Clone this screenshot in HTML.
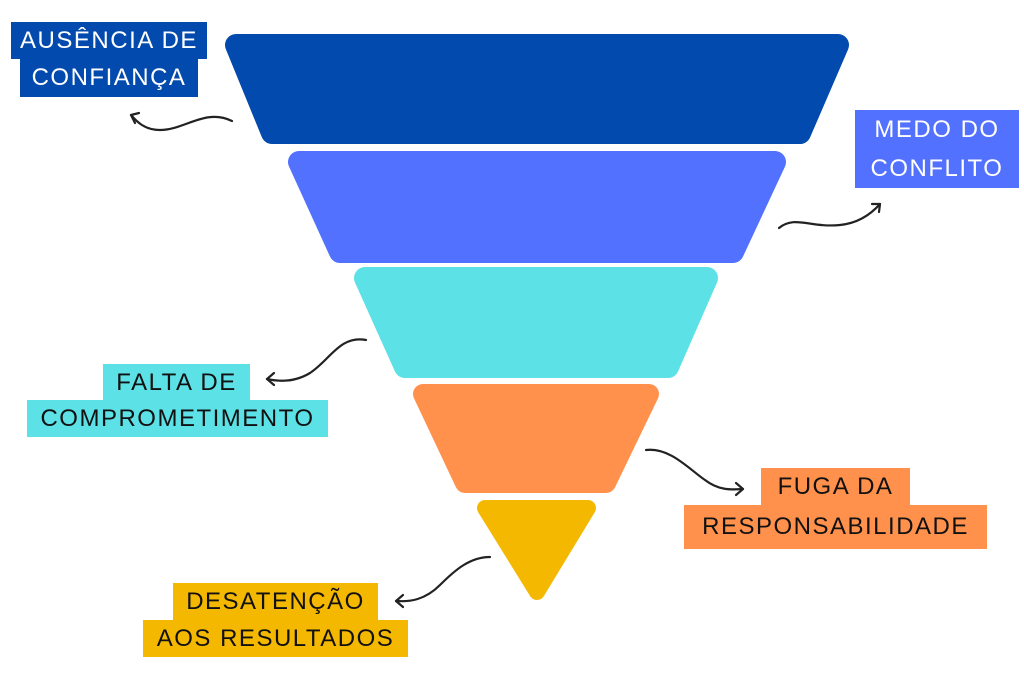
<!DOCTYPE html>
<html><head><meta charset="utf-8"><style>
body{margin:0;width:1024px;height:678px;background:#fff;position:relative;overflow:hidden;font-family:"Liberation Sans",sans-serif}
.l{position:absolute;font-size:24px;letter-spacing:1.5px;text-align:center;line-height:37px;white-space:nowrap}
</style></head><body>
<svg width="1024" height="678" style="position:absolute;left:0;top:0" stroke-linejoin="round">
<path d="M236,45 L838,45 L800,133 L272,133 Z" fill="#024aad" stroke="#024aad" stroke-width="22"/>
<path d="M299,162 L775,162 L733,252 L340,252 Z" fill="#5271ff" stroke="#5271ff" stroke-width="22"/>
<path d="M365,278 L707,278 L668,367 L405,367 Z" fill="#5ce1e6" stroke="#5ce1e6" stroke-width="22"/>
<path d="M423,394 L649,394 L606,483 L465,483 Z" fill="#ff914d" stroke="#ff914d" stroke-width="20"/>
<path d="M485,508 L588,508 L537,592 Z" fill="#f5b800" stroke="#f5b800" stroke-width="16"/>
<g fill="none" stroke="#222" stroke-width="2.2" stroke-linecap="round">
<path d="M232,121 C205,108 185,130 160,130 C145,130 137,122 131,115"/>
<path d="M139,113 L131,115 L135,123"/>
<path d="M779,228 C795,215 810,228 840,225 C860,223 872,213 880,204"/>
<path d="M872,204 L880,204 L879,212"/>
<path d="M366,340 C340,335 330,360 310,373 C295,382 280,382 267,379"/>
<path d="M274,373 L267,379 L274,385"/>
<path d="M646,450 C670,447 690,470 705,480 C718,490 730,490 743,489"/>
<path d="M736,483 L743,489 L736,495"/>
<path d="M490,557 C470,557 455,570 440,585 C425,600 410,602 396,601"/>
<path d="M403,595 L396,601 L403,607"/>
</g></svg>
<div class="l" style="left:11px;top:22px;width:196px;background:#024aad;color:#fff">AUSÊNCIA DE</div>
<div class="l" style="left:20px;top:59px;width:178px;height:38px;background:#024aad;color:#fff">CONFIANÇA</div>
<div class="l" style="left:855px;top:110px;width:164px;height:78px;background:#5271ff;color:#fff;line-height:39px">MEDO DO<br>CONFLITO</div>
<div class="l" style="left:103px;top:364px;width:147px;background:#5ce1e6;color:#111">FALTA DE</div>
<div class="l" style="left:27px;top:400px;width:301px;background:#5ce1e6;color:#111">COMPROMETIMENTO</div>
<div class="l" style="left:761px;top:468px;width:149px;background:#ff914d;color:#111">FUGA DA</div>
<div class="l" style="left:684px;top:505px;width:303px;height:44px;line-height:44px;background:#ff914d;color:#111">RESPONSABILIDADE</div>
<div class="l" style="left:173px;top:583px;width:205px;background:#f5b800;color:#111">DESATENÇÃO</div>
<div class="l" style="left:143px;top:620px;width:265px;background:#f5b800;color:#111">AOS RESULTADOS</div>
</body></html>
